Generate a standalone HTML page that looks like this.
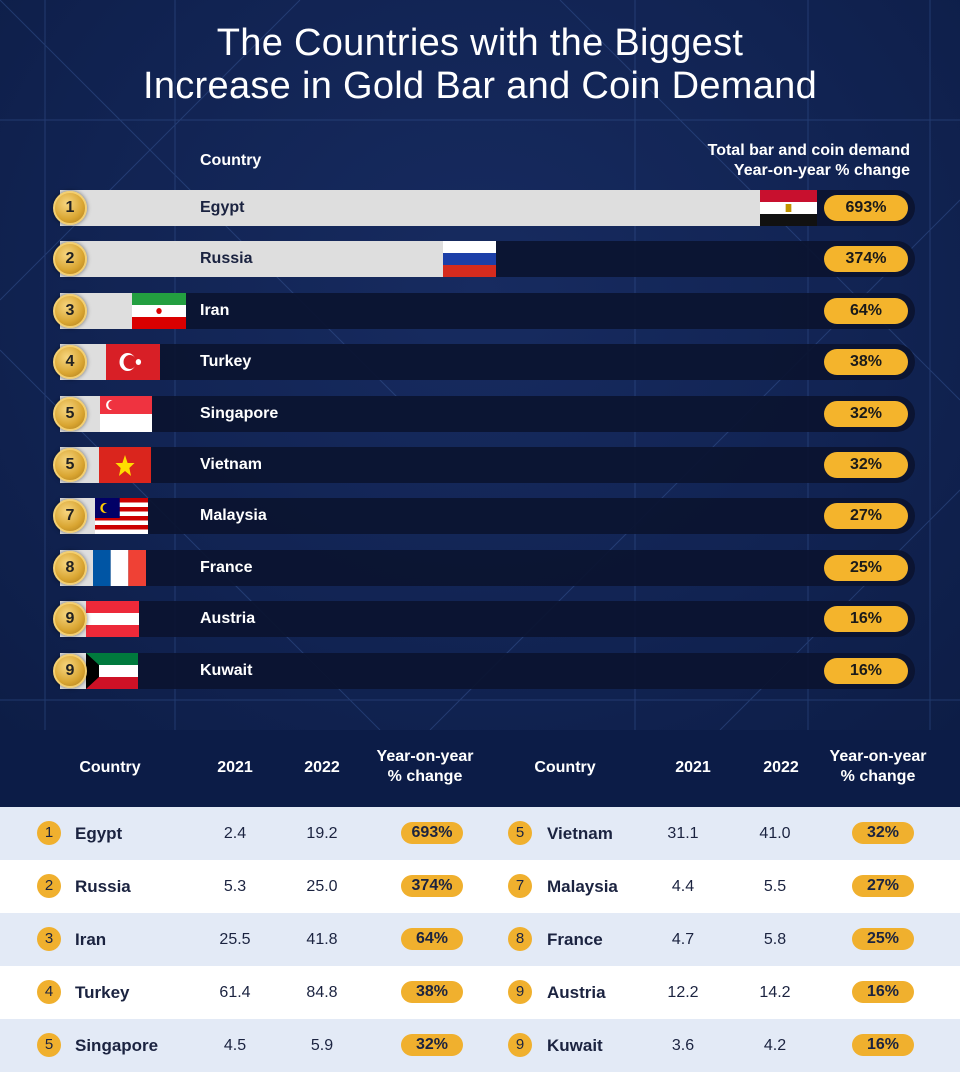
<!DOCTYPE html>
<html><head><meta charset="utf-8">
<style>
*{margin:0;padding:0;box-sizing:border-box}
body{width:960px;height:1074px;overflow:hidden;background:#fff;font-family:"Liberation Sans",sans-serif;position:relative}
#top{position:absolute;left:0;top:0;width:960px;height:730px;background:radial-gradient(ellipse at 50% 40%,#172b60 0%,#112352 60%,#0d1d46 100%);overflow:hidden}
.abs{position:absolute}
h1{position:absolute;left:0;top:22px;width:960px;text-align:center;color:#fff;font-size:38px;font-weight:normal;line-height:43px;letter-spacing:0.3px}
.lbl{color:#fff;font-weight:bold;font-size:16px}
.track{position:absolute;left:60px;width:855px;height:36px;background:#0b1430;border-radius:0 18px 18px 0;opacity:.92}
.bar{position:absolute;left:60px;height:36px;background:#dedede}
.coin{position:absolute;left:53px;width:34px;height:34px;border-radius:50%;background:radial-gradient(circle at 40% 35%,#f7d680,#d9a531 60%,#a8781b);border:2px solid #f3cf72;text-align:center;line-height:30px;font-weight:bold;font-size:16px;color:#222;box-shadow:0 0 4px #0008}
.name{position:absolute;left:200px;font-weight:bold;font-size:16px;line-height:36px}
.badge{position:absolute;left:824px;width:84px;height:26px;border-radius:13px;background:#f4b42c;color:#1a1a1a;font-weight:bold;font-size:16px;text-align:center;line-height:26px}
#hdr{position:absolute;left:0;top:730px;width:960px;height:77px;background:#0c1c47}
.th{position:absolute;color:#fff;font-weight:bold;font-size:16px;text-align:center;line-height:20px}
.row{position:absolute;left:0;width:960px;height:53px}
.c{position:absolute;font-size:16px;color:#1b2340;line-height:53px}
.n{position:absolute;width:24px;height:24px;border-radius:50%;background:#f0b02e;text-align:center;line-height:24px;font-size:15px;color:#1b2340;top:14px}
.pb{position:absolute;width:62px;height:22px;border-radius:11px;background:#f0b02e;text-align:center;line-height:22px;font-weight:bold;font-size:16px;color:#1b2340;top:15px}
</style></head><body>
<div id="top">
<svg class="abs" style="left:0;top:0" width="960" height="730">
<g stroke="#3a5a9a" stroke-width="1" opacity="0.45">
<line x1="45" y1="0" x2="45" y2="730"/><line x1="175" y1="0" x2="175" y2="730"/><line x1="635" y1="0" x2="635" y2="730"/><line x1="808" y1="0" x2="808" y2="730"/><line x1="930" y1="0" x2="930" y2="730"/>
<line x1="0" y1="120" x2="960" y2="120"/><line x1="0" y1="700" x2="960" y2="700"/>
<line x1="0" y1="0" x2="400" y2="400"/><line x1="560" y1="0" x2="960" y2="400"/><line x1="960" y1="200" x2="430" y2="730"/><line x1="0" y1="350" x2="380" y2="730"/><line x1="300" y1="0" x2="0" y2="300"/><line x1="720" y1="730" x2="960" y2="490"/>
</g></svg>
<h1>The Countries with the Biggest<br>Increase in Gold Bar and Coin Demand</h1>
<div class="abs lbl" style="left:200px;top:152px">Country</div>
<div class="abs lbl" style="right:50px;top:141px;text-align:right;line-height:20px">Total bar and coin demand<br>Year-on-year % change</div>
<div id="rows"></div>
</div>
<div id="hdr">
<div class="th" style="left:60px;width:100px;top:28px">Country</div>
<div class="th" style="left:200px;width:70px;top:28px">2021</div>
<div class="th" style="left:287px;width:70px;top:28px">2022</div>
<div class="th" style="left:360px;width:130px;top:17px">Year-on-year<br>% change</div>
<div class="th" style="left:515px;width:100px;top:28px">Country</div>
<div class="th" style="left:658px;width:70px;top:28px">2021</div>
<div class="th" style="left:746px;width:70px;top:28px">2022</div>
<div class="th" style="left:813px;width:130px;top:17px">Year-on-year<br>% change</div>
</div>
<div id="tbl"></div>
<script>
function flag(c,w,h){
 let s=`<svg width="${w}" height="${h}" viewBox="0 0 60 36" preserveAspectRatio="none">`;
 const st=(cols)=>cols.map((k,i)=>`<rect y="${i*36/cols.length}" width="60" height="${36/cols.length+0.5}" fill="${k}"/>`).join('');
 if(c=='Egypt')s+=st(['#c8102e','#fff','#111'])+'<rect x="27" y="14" width="6" height="8" fill="#c09300"/>';
 else if(c=='Russia')s+=st(['#fff','#1c3fa8','#d52b1e']);
 else if(c=='Iran')s+=st(['#239f40','#fff','#da0000'])+'<circle cx="30" cy="18" r="3" fill="#da0000"/>';
 else if(c=='Turkey')s+='<rect width="60" height="36" fill="#d81f26"/><circle cx="24" cy="18" r="9" fill="#fff"/><circle cx="26.5" cy="18" r="7" fill="#d81f26"/><circle cx="36" cy="18" r="3" fill="#fff"/>';
 else if(c=='Singapore')s+=st(['#ef3340','#fff'])+'<circle cx="12" cy="9" r="5" fill="#fff"/><circle cx="14" cy="9" r="4.5" fill="#ef3340"/>';
 else if(c=='Vietnam')s+='<rect width="60" height="36" fill="#da251d"/><polygon points="30,8 33,16 41,16 35,21 37,29 30,24 23,29 25,21 19,16 27,16" fill="#ffdd00"/>';
 else if(c=='Malaysia')s+=st(['#cc0001','#fff','#cc0001','#fff','#cc0001','#fff','#cc0001','#fff'])+'<rect width="28" height="20" fill="#010066"/><circle cx="11" cy="10" r="5" fill="#fc0"/><circle cx="13" cy="10" r="4.3" fill="#010066"/>';
 else if(c=='France')s+='<rect width="20" height="36" fill="#0055a4"/><rect x="20" width="20" height="36" fill="#fff"/><rect x="40" width="20" height="36" fill="#ef4135"/>';
 else if(c=='Austria')s+=st(['#ed2939','#fff','#ed2939']);
 else if(c=='Kuwait')s+=st(['#007a3d','#fff','#ce1126'])+'<polygon points="0,0 15,12 15,24 0,36" fill="#000"/>';
 return s+'</svg>';
}
const D=[['1','Egypt',760,817,'693%'],['2','Russia',443,496,'374%'],['3','Iran',132,186,'64%'],['4','Turkey',106,160,'38%'],['5','Singapore',100,152,'32%'],['5','Vietnam',99,151,'32%'],['7','Malaysia',95,148,'27%'],['8','France',93,146,'25%'],['9','Austria',86,139,'16%'],['9','Kuwait',86,138,'16%']];
let h='';
D.forEach((d,i)=>{const y=190+i*51.4;const big=i<2;
 h+=`<div class="track" style="top:${y}px"></div><div class="bar" style="top:${y}px;width:${d[2]-60}px"></div>`;
 h+=`<div class="abs" style="left:${d[2]}px;top:${y}px;height:36px">${flag(d[1],d[3]-d[2],36)}</div>`;
 h+=`<div class="coin" style="top:${y+1}px">${d[0]}</div>`;
 h+=`<div class="name" style="top:${y}px;color:${big?'#1b2340':'#fff'}">${d[1]}</div>`;
 h+=`<div class="badge" style="top:${y+5}px">${d[4]}</div>`;});
document.getElementById('rows').innerHTML=h;
const L=[['1','Egypt','2.4','19.2','693%'],['2','Russia','5.3','25.0','374%'],['3','Iran','25.5','41.8','64%'],['4','Turkey','61.4','84.8','38%'],['5','Singapore','4.5','5.9','32%']];
const R=[['5','Vietnam','31.1','41.0','32%'],['7','Malaysia','4.4','5.5','27%'],['8','France','4.7','5.8','25%'],['9','Austria','12.2','14.2','16%'],['9','Kuwait','3.6','4.2','16%']];
let t='';
for(let i=0;i<5;i++){const y=807+i*53;
 t+=`<div class="row" style="top:${y}px;background:${i%2?'#fff':'#e3eaf6'}">`;
 [[L[i],37,75,235,322,401],[R[i],508,547,683,775,852]].forEach(([r,nx,cx,a,b,p])=>{
  t+=`<div class="n" style="left:${nx}px">${r[0]}</div><div class="c" style="left:${cx}px;font-weight:bold;font-size:17px">${r[1]}</div>`;
  t+=`<div class="c" style="left:${a-30}px;width:60px;text-align:center">${r[2]}</div><div class="c" style="left:${b-30}px;width:60px;text-align:center">${r[3]}</div>`;
  t+=`<div class="pb" style="left:${p}px">${r[4]}</div>`;});
 t+='</div>';}
document.getElementById('tbl').innerHTML=t;
</script>
</body></html>
